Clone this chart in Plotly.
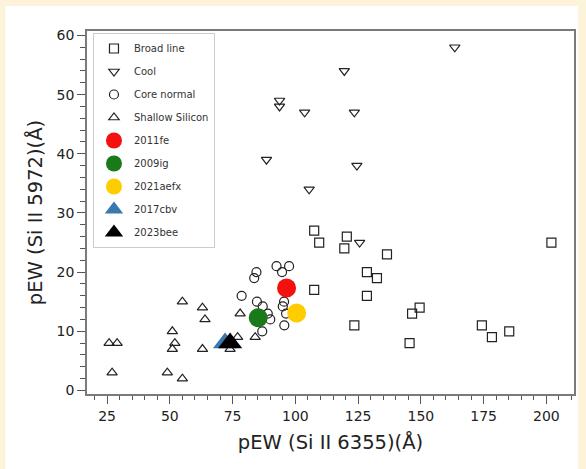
import plotly.graph_objects as go

# ---- data ----
broad_x = [107.5, 109.5, 107.5, 120.5, 119.5, 136.5, 128.5, 132.5, 128.5, 123.5,
           146.5, 149.5, 145.5, 174.3, 178.3, 185.2, 202.0]
broad_y = [27, 25, 17, 26, 24, 23, 20, 19, 16, 11, 13, 14, 8, 11, 9, 10, 25]

cool_x = [163.5, 119.5, 93.7, 93.7, 103.7, 123.5, 88.5, 124.5, 105.5, 125.6]
cool_y = [58, 54, 49, 48, 47, 47, 39, 38, 34, 25]

core_x = [84.5, 83.6, 92.5, 97.5, 94.7, 78.6, 84.7, 87.0, 95.0, 95.5, 89.0, 90.0, 96.3, 86.8, 95.6]
core_y = [20, 19, 21, 21, 20, 16, 15, 14.2, 14.2, 15, 13, 12, 13, 10, 11]

shallow_x = [25.8, 29.0, 27.0, 49.0, 55.0, 51.0, 52.0, 51.0, 55.0, 63.0, 64.0, 63.0, 78.0, 77.0, 84.0, 74.0]
shallow_y = [8, 8, 3, 3, 2, 10, 8, 7, 15, 14, 12, 7, 13, 9, 9, 7]

special_names = ["2011fe", "2009ig", "2021aefx", "2017cbv", "2023bee"]
special_x = [96.5, 85.2, 100.5, 72.0, 74.0]
special_y = [17.3, 12.3, 13.1, 8.0, 8.0]

x_ticks = [25, 50, 75, 100, 125, 150, 175, 200]
y_ticks = [0, 10, 20, 30, 40, 50, 60]

# ---- styling ----
FONT = "DejaVu Sans"
INK = "#222222"
special_colors = ["#f50f0f", "#1a7a1a", "#ffcc00", "#3b78b0", "#000000"]
special_symbols = ["circle", "circle", "circle", "triangle-up", "triangle-up"]
special_sizes = [19, 19, 19, 21, 21]

fig = go.Figure()

groups = [
    ("Broad line", broad_x, broad_y, "square-open", 9),
    ("Cool", cool_x, cool_y, "triangle-down-open", 9),
    ("Core normal", core_x, core_y, "circle-open", 9),
    ("Shallow Silicon", shallow_x, shallow_y, "triangle-up-open", 9),
]
for name, xs, ys, sym, sz in groups:
    fig.add_trace(go.Scatter(
        x=xs, y=ys, mode="markers", name=name, legendgroup=name,
        marker=dict(symbol=sym, size=sz, color=INK, line=dict(width=1.2, color=INK)),
    ))

for name, xv, yv, col, sym, sz in zip(special_names, special_x, special_y,
                                       special_colors, special_symbols, special_sizes):
    fig.add_trace(go.Scatter(
        x=[xv], y=[yv], mode="markers", name=name, legendgroup=name,
        marker=dict(symbol=sym, size=sz, color=col, line=dict(width=0)),
    ))

L, R, T, B = 87, 10, 31, 75
W, H = 586, 469
pw, ph = W - L - R, H - T - B

def px2x(p):
    return (p - L) / pw

def py2y(p):
    return (H - B - p) / ph

fig.add_shape(type="rect", xref="paper", yref="paper",
              x0=px2x(5), x1=px2x(580), y0=py2y(469), y1=py2y(6),
              fillcolor="white", line=dict(width=0), layer="below")

axis_common = dict(
    showgrid=False, zeroline=False, showline=True, linecolor="#7a7a7a", linewidth=1.6,
    mirror=True, ticks="outside", ticklen=8, tickwidth=1.2, tickcolor="#555555",
    tickfont=dict(family=FONT, size=14, color=INK),
)

fig.update_layout(
    width=W, height=H,
    margin=dict(l=L, r=R, t=T, b=B),
    paper_bgcolor="#FDF3DA",
    plot_bgcolor="white",
    font=dict(family=FONT, color=INK),
    xaxis=dict(range=[17, 211], tickvals=x_ticks,
               minor=dict(dtick=5, ticks="outside", ticklen=4, tickcolor="#555555", tickwidth=1),
               title=dict(text="pEW (Si II 6355)(Å)", font=dict(family=FONT, size=19.5, color=INK),
                          standoff=13),
               **axis_common),
    yaxis=dict(range=[-0.6, 60.75], tickvals=y_ticks,
               minor=dict(dtick=2, ticks="outside", ticklen=5, tickcolor="#555555", tickwidth=1),
               title=dict(text="pEW (Si II 5972)(Å)", font=dict(family=FONT, size=19.5, color=INK),
                          standoff=9),
               **axis_common),
    legend=dict(x=px2x(93), y=py2y(33), xanchor="left", yanchor="top",
                bgcolor="white", bordercolor="#cccccc", borderwidth=1,
                font=dict(family=FONT, size=10, color="#333333"),
                traceorder="grouped", tracegroupgap=4),
    showlegend=True,
)

fig.write_html("out.html")
